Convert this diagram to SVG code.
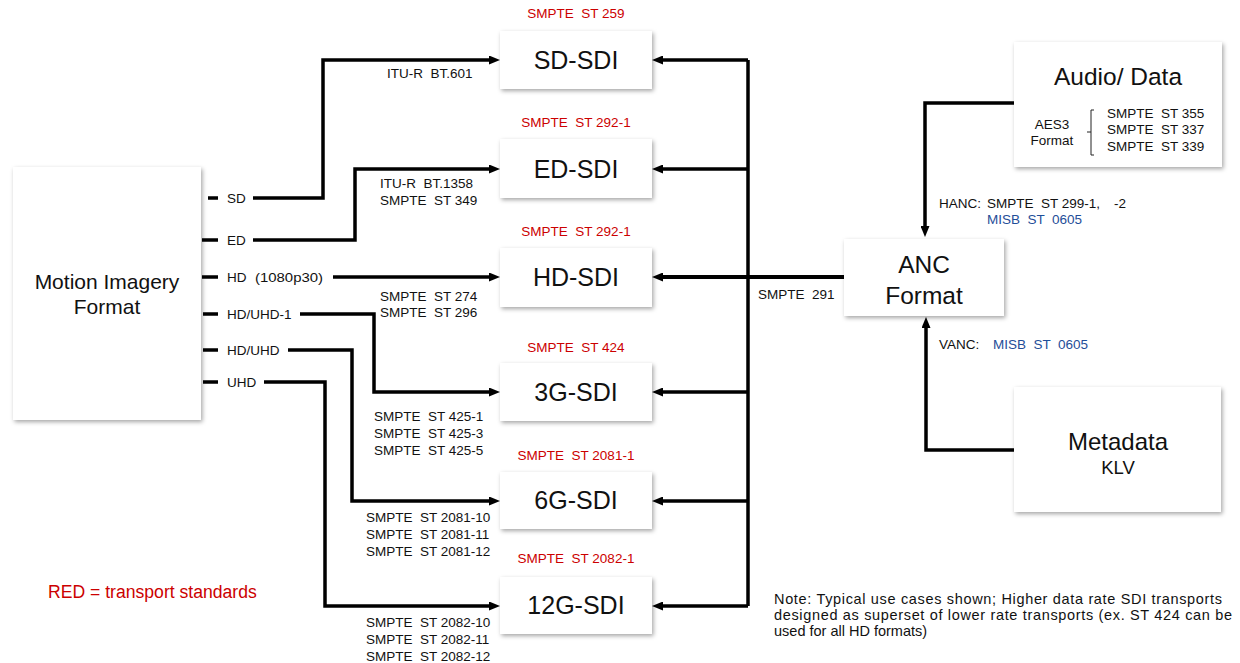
<svg xmlns="http://www.w3.org/2000/svg" width="1240" height="663" viewBox="0 0 1240 663">
<defs>
<filter id="sh" x="-10%" y="-10%" width="125%" height="130%">
<feDropShadow dx="1.5" dy="2" stdDeviation="2" flood-color="#000" flood-opacity="0.35"/>
</filter>
<marker id="ah" markerWidth="11" markerHeight="9" refX="2" refY="4.5" orient="auto" markerUnits="userSpaceOnUse">
<path d="M0,0 L11,4.5 L0,9 z" fill="#000"/>
</marker>
<style>
.box{fill:#fff;filter:url(#sh)}
.ln{fill:none;stroke:#000;stroke-width:3.5}
text{white-space:pre}
.t{font-family:"Liberation Sans",Arial,sans-serif;fill:#111}
.s{font-size:13.5px}
.red{fill:#CC0000}
.blue{fill:#1F4E99}
.big{font-size:25px}
.mid{text-anchor:middle}
</style>
</defs>
<rect width="1240" height="663" fill="#fff"/>

<g id="connectors">
<path class="ln" d="M208,198 H218 M202,240 H218 M202,277 H218 M203,314 H218 M203,350 H218 M203,382 H218"/>
<path class="ln" d="M253,198 H323 V60 H491" marker-end="url(#ah)"/>
<path class="ln" d="M253,240 H355 V169 H491" marker-end="url(#ah)"/>
<path class="ln" d="M333,277 H491" marker-end="url(#ah)"/>
<path class="ln" d="M300,314 H374 V392 H491" marker-end="url(#ah)"/>
<path class="ln" d="M288,350 H352 V501 H491" marker-end="url(#ah)"/>
<path class="ln" d="M264,382 H325 V606 H491" marker-end="url(#ah)"/>
<path class="ln" d="M748,60 V606"/>
<path class="ln" d="M748,60 H661" marker-end="url(#ah)"/>
<path class="ln" d="M748,169 H661" marker-end="url(#ah)"/>
<path class="ln" d="M844,277 H661" marker-end="url(#ah)" style="stroke-width:4"/>
<path class="ln" d="M748,392 H661" marker-end="url(#ah)"/>
<path class="ln" d="M748,501 H661" marker-end="url(#ah)"/>
<path class="ln" d="M748,606 H661" marker-end="url(#ah)"/>
<path class="ln" d="M1014,103 H925 V228" marker-end="url(#ah)"/>
<path class="ln" d="M1014,450 H926 V326" marker-end="url(#ah)"/>
</g>

<g id="motion-imagery-format">
<rect class="box" x="13" y="167" width="188" height="253"/>
<text class="t mid" x="107" y="289" font-size="21">Motion Imagery</text>
<text class="t mid" x="107" y="314" font-size="21">Format</text>
</g>

<g id="format-labels">
<text class="t s" x="227" y="203">SD</text>
<text class="t s" x="227" y="245">ED</text>
<text class="t s" x="227" y="282">HD<tspan x="255" textLength="68" lengthAdjust="spacingAndGlyphs">(1080p30)</tspan></text>
<text class="t s" x="227" y="319">HD/UHD-1</text>
<text class="t s" x="227" y="355">HD/UHD</text>
<text class="t s" x="227" y="387">UHD</text>
</g>

<g id="standard-labels">
<text class="t s" x="387" y="78">ITU-R  BT.601</text>
<text class="t s" x="380" y="188">ITU-R  BT.1358</text>
<text class="t s" x="380" y="205">SMPTE  ST 349</text>
<text class="t s" x="380" y="301">SMPTE  ST 274</text>
<text class="t s" x="380" y="317">SMPTE  ST 296</text>
<text class="t s" x="374" y="421">SMPTE  ST 425-1</text>
<text class="t s" x="374" y="438">SMPTE  ST 425-3</text>
<text class="t s" x="374" y="455">SMPTE  ST 425-5</text>
<text class="t s" x="366" y="522">SMPTE  ST 2081-10</text>
<text class="t s" x="366" y="539">SMPTE  ST 2081-11</text>
<text class="t s" x="366" y="556">SMPTE  ST 2081-12</text>
<text class="t s" x="366" y="627">SMPTE  ST 2082-10</text>
<text class="t s" x="366" y="644">SMPTE  ST 2082-11</text>
<text class="t s" x="366" y="661">SMPTE  ST 2082-12</text>
<text class="t s" x="758" y="299">SMPTE  291</text>
</g>

<g id="sd-sdi">
<rect class="box" x="500" y="31" width="152" height="58"/>
<text class="t big mid" x="576" y="69">SD-SDI</text>
<text class="t s red mid" x="576" y="18">SMPTE  ST 259</text>
</g>
<g id="ed-sdi">
<rect class="box" x="500" y="139" width="152" height="59"/>
<text class="t big mid" x="576" y="178">ED-SDI</text>
<text class="t s red mid" x="576" y="127">SMPTE  ST 292-1</text>
</g>
<g id="hd-sdi">
<rect class="box" x="500" y="248" width="152" height="59"/>
<text class="t big mid" x="576" y="286">HD-SDI</text>
<text class="t s red mid" x="576" y="236">SMPTE  ST 292-1</text>
</g>
<g id="3g-sdi">
<rect class="box" x="500" y="363" width="152" height="58"/>
<text class="t big mid" x="576" y="401">3G-SDI</text>
<text class="t s red mid" x="576" y="352">SMPTE  ST 424</text>
</g>
<g id="6g-sdi">
<rect class="box" x="500" y="472" width="152" height="57"/>
<text class="t big mid" x="576" y="509">6G-SDI</text>
<text class="t s red mid" x="576" y="460">SMPTE  ST 2081-1</text>
</g>
<g id="12g-sdi">
<rect class="box" x="500" y="577" width="152" height="57"/>
<text class="t big mid" x="576" y="614">12G-SDI</text>
<text class="t s red mid" x="576" y="563">SMPTE  ST 2082-1</text>
</g>

<g id="anc-format">
<rect class="box" x="844" y="239" width="160" height="77"/>
<text class="t mid" x="924" y="273" font-size="24.5">ANC</text>
<text class="t mid" x="924" y="304" font-size="24.5">Format</text>
</g>

<g id="anc-labels">
<text class="t s" x="939" y="208">HANC:<tspan x="987">SMPTE  ST 299-1,</tspan><tspan x="1114">-2</tspan></text>
<text class="t s blue" x="987" y="224">MISB  ST  0605</text>
<text class="t s" x="939" y="349">VANC:</text>
<text class="t s blue" x="993" y="349">MISB  ST  0605</text>
</g>

<g id="audio-data">
<rect class="box" x="1014" y="42" width="208" height="125"/>
<text class="t mid" x="1118" y="85" font-size="24.5">Audio/ Data</text>
<text class="t s mid" x="1052" y="129">AES3</text>
<text class="t s mid" x="1052" y="145">Format</text>
<path d="M1094,110 H1091 V132 H1087 M1091,132 V155 H1094" fill="none" stroke="#222" stroke-width="1"/>
<text class="t s" x="1107" y="118">SMPTE  ST 355</text>
<text class="t s" x="1107" y="134">SMPTE  ST 337</text>
<text class="t s" x="1107" y="151">SMPTE  ST 339</text>
</g>

<g id="metadata">
<rect class="box" x="1014" y="387" width="207" height="125"/>
<text class="t mid" x="1118" y="450" font-size="24">Metadata</text>
<text class="t mid" x="1118" y="474" font-size="18.5">KLV</text>
</g>

<g id="legend">
<text class="t red" x="48" y="598" font-size="17.6">RED = transport standards</text>
</g>

<g id="note">
<text class="t" font-size="14.5" x="774" y="604" textLength="448" lengthAdjust="spacing">Note: Typical use cases shown; Higher data rate SDI transports</text>
<text class="t" font-size="14.5" x="774" y="620" textLength="458" lengthAdjust="spacing">designed as superset of lower rate transports (ex. ST 424 can be</text>
<text class="t" font-size="14.5" x="774" y="636">used for all HD formats)</text>
</g>
</svg>
